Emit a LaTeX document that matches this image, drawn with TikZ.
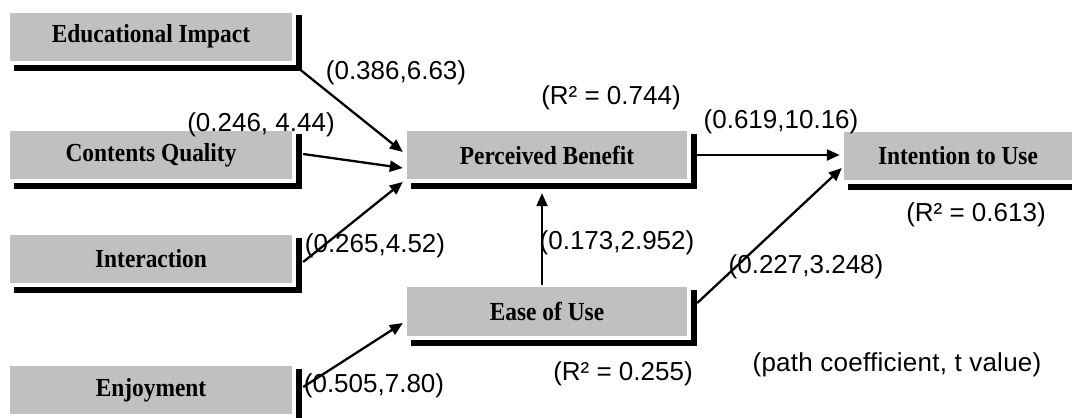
\documentclass[tikz,border=0pt]{standalone}
\usepackage{fontspec}
\setmainfont{Liberation Serif}
\newfontfamily\boxfont[FakeStretch=0.9]{Liberation Serif}
\newfontfamily\lblfont{Liberation Sans}
\usetikzlibrary{arrows.meta,calc}
\definecolor{boxgray}{RGB}{192,192,192}
\tikzset{
  boxnode/.style={fill=boxgray, minimum width=280pt, minimum height=48pt, inner sep=0pt,
    font=\boxfont\fontsize{26}{30}\selectfont\bfseries},
  shadowline/.style={line width=6pt, black, line join=miter},
  lbl/.style={inner sep=0pt, font=\lblfont\fontsize{26}{30}\selectfont},
  link/.style={line width=2.3pt, -{Triangle[length=13pt,width=11pt]}}
}
\newcommand\boxshadow[1]{\draw[shadowline] ($(#1.south west)+(4,7)$) -- ($(#1.south east)+(7,7)$) -- ($(#1.north east)+(7,3)$);}
\begin{document}
\begin{tikzpicture}[x=1pt,y=-1pt]
\clip (0,0) rectangle (1072,418);
\fill[white] (0,0) rectangle (1072,418);
% boxes
\node[boxnode, minimum width=282pt] (edu) at (151,36.5) {Educational Impact};
\node[boxnode, minimum width=282pt] (cq)  at (151,155) {Contents Quality};
\node[boxnode, minimum width=282pt] (int) at (151,259) {Interaction};
\node[boxnode, minimum width=282pt] (enj) at (151,390) {Enjoyment};
\node[boxnode] (pb) at (547,155) {Perceived Benefit};
\node[boxnode, minimum height=49pt] (ease) at (547,311.5) {Ease of Use};
\node[boxnode, minimum width=228pt] (itu) at (958,156) {Intention to Use};
\foreach \n in {edu,cq,int,enj,pb,ease,itu}{\boxshadow{\n}}
% labels
\node[lbl] (l1) at (396,73) {(0.386,6.63)};
\node[lbl] (l2) at (261,125) {(0.246, 4.44)};
\node[lbl] (l3) at (611,98) {(R² = 0.744)};
\node[lbl] (l4) at (781,122) {(0.619,10.16)};
\node[lbl] (l5) at (976,215) {(R² = 0.613)};
\node[lbl] (l6) at (375,246) {(0.265,4.52)};
\node[lbl] (l7) at (617,243) {(0.173,2.952)};
\node[lbl] (l8) at (806,267) {(0.227,3.248)};
\node[lbl] (l9) at (374,386) {(0.505,7.80)};
\node[lbl] (l10) at (623,374) {(R² = 0.255)};
\node[lbl, font=\lblfont\fontsize{26}{30}\selectfont\addfontfeatures{LetterSpace=1}] (l11) at (897,365) {(path coefficient, t value)};
% arrows
\draw[link] ($(edu.south east)+(8,9)$) -- ($(pb.west)+(-4,-3)$);
\draw[link] ($(cq.east)+(11,-1)$) -- ($(pb.west)+(-4,13)$);
\draw[link] ($(int.east)+(11,3)$) -- ($(pb.west)+(-4,27)$);
\draw[link] ($(enj.east)+(11,-3)$) -- ($(ease.west)+(-4,11.5)$);
\draw[link] ($(ease.north)+(-5,-2)$) -- ($(pb.south)+(-5,14)$);
\draw[link] ($(pb.east)+(7,0)$) -- ($(itu.west)+(-4,-1)$);
\draw[link] ($(ease.east)+(10,-8.5)$) -- ($(itu.west)+(-2,12)$);
\end{tikzpicture}
\end{document}
